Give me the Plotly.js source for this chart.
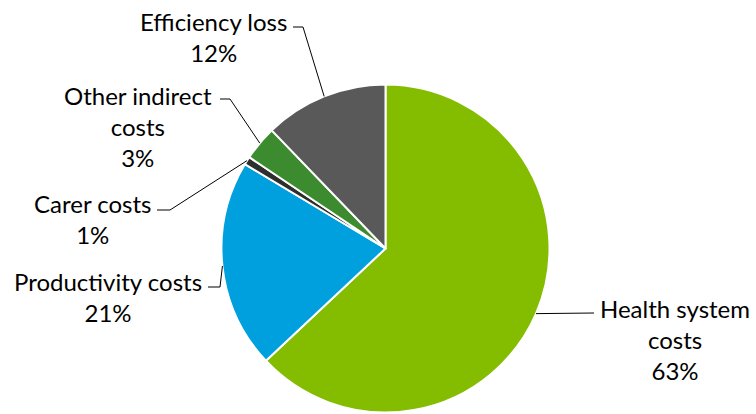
<!DOCTYPE html>
<html>
<head>
<meta charset="utf-8">
<script src="https://cdn.plot.ly/plotly-3.0.1.min.js"></script>
<style>html,body{margin:0;padding:0;background:#fff}#chart{width:756px;height:414px}</style>
</head>
<body>
<div id="chart"></div>
<script>
// Data
const categories = ['Health system costs', 'Productivity costs', 'Carer costs', 'Other indirect costs', 'Efficiency loss'];
const displayNames = ['Health system<br>costs', 'Productivity costs', 'Carer costs', 'Other indirect<br>costs', 'Efficiency loss'];
const values = [63.0, 20.6, 0.8, 3.4, 12.2];
const colors = ['#84BC00', '#00A0DF', '#2E2E2E', '#3D8B2F', '#595959'];

// Layout constants (pixels)
const W = 756, H = 414;
const cx = 385.5, cy = 248.5, R = 164;
// label text centres and leader elbows (pixels, y downward)
const labelPos = [
  {x: 675, y: 339, elbow: [594, 313], tail: [594, 313]},
  {x: 108, y: 297, elbow: [220, 287], tail: [208, 287]},
  {x: 93,  y: 219, elbow: [170, 210], tail: [157, 210]},
  {x: 138, y: 126, elbow: [230, 99],  tail: [220, 99]},
  {x: 213, y: 37,  elbow: [303, 27],  tail: [293, 27]}
];

const total = values.reduce((a, b) => a + b, 0);
const shapes = [];
const annotations = [];
let cum = 0;
values.forEach((v, i) => {
  const mid = (cum + v / 2) / total * 2 * Math.PI; // clockwise from top
  cum += v;
  const ex = cx + R * Math.sin(mid);
  const ey = cy - R * Math.cos(mid);
  const lp = labelPos[i];
  shapes.push({
    type: 'path', xref: 'x', yref: 'y',
    path: `M ${ex},${ey} L ${lp.elbow[0]},${lp.elbow[1]} L ${lp.tail[0]},${lp.tail[1]}`,
    line: {color: '#000000', width: 1}
  });
  annotations.push({
    xref: 'x', yref: 'y', x: lp.x, y: lp.y,
    text: displayNames[i] + '<br>' + Math.round(v / total * 100) + '%',
    showarrow: false, align: 'center', xanchor: 'center', yanchor: 'middle',
    font: {family: 'Lato, "Open Sans", sans-serif', size: 24, color: '#000000'}
  });
});

const trace = {
  type: 'pie',
  labels: categories,
  values: values,
  sort: false,
  direction: 'clockwise',
  rotation: 0,
  textinfo: 'none',
  hoverinfo: 'label+percent',
  marker: {colors: colors, line: {color: '#FFFFFF', width: 2}},
  domain: {x: [(cx - R) / W, (cx + R) / W], y: [(H - cy - R) / H, (H - cy + R) / H]},
  showlegend: false
};

const layout = {
  width: W, height: H,
  margin: {l: 0, r: 0, t: 0, b: 0},
  paper_bgcolor: '#FFFFFF', plot_bgcolor: 'rgba(0,0,0,0)',
  xaxis: {range: [0, W], visible: false, fixedrange: true},
  yaxis: {range: [H, 0], visible: false, fixedrange: true},
  shapes: shapes,
  annotations: annotations,
  showlegend: false
};

Plotly.newPlot('chart', [trace], layout, {displayModeBar: false, staticPlot: true});
</script>
</body>
</html>
